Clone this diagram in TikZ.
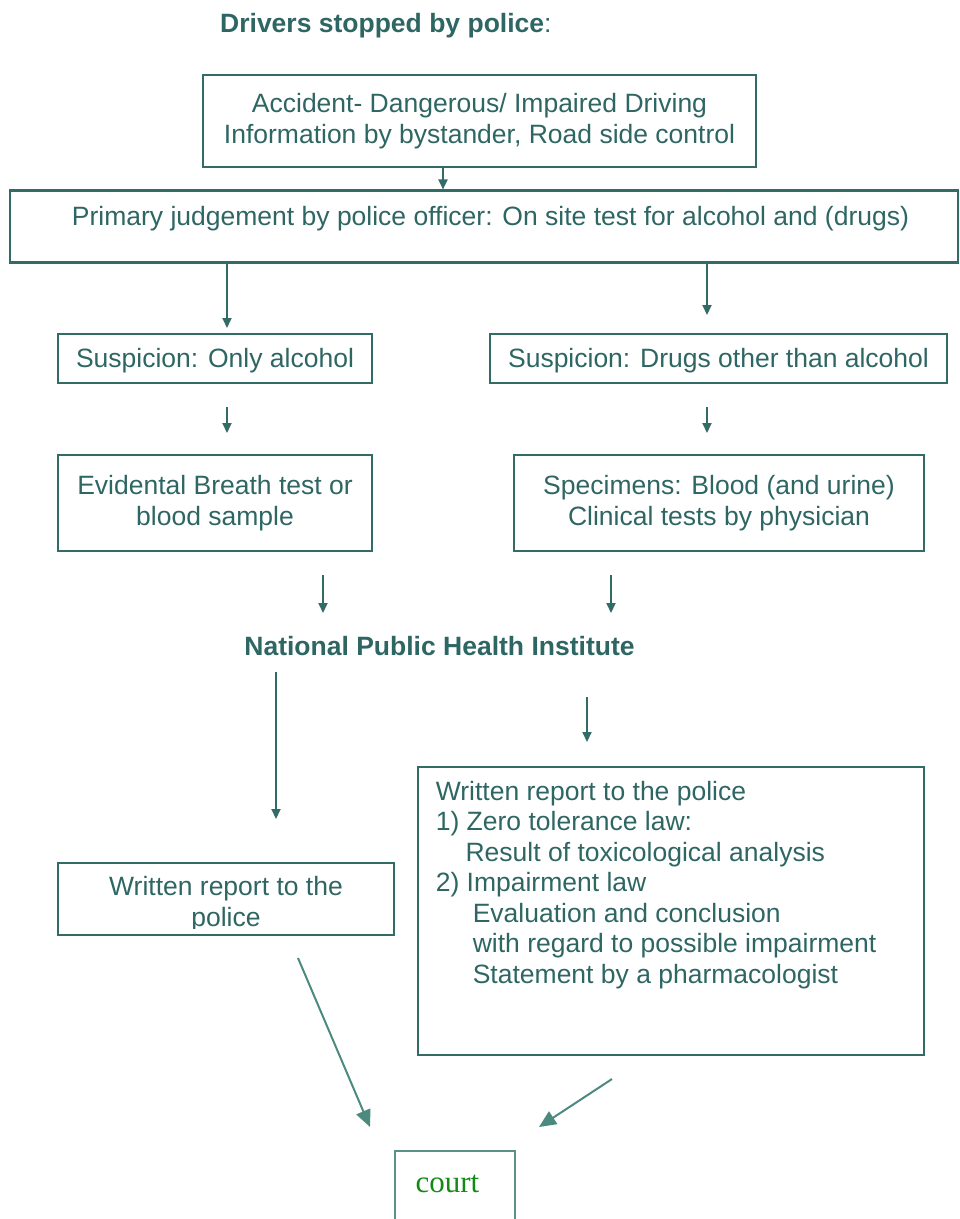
\documentclass[tikz,border=0pt]{standalone}
\usepackage{fontspec}
\setmainfont{Liberation Sans}
\newfontfamily\courtfont{Liberation Serif}
\usetikzlibrary{arrows.meta}
\definecolor{flowline}{HTML}{336B67}
\definecolor{flowtext}{HTML}{2E6663}
\definecolor{slantline}{HTML}{4C8A80}
\definecolor{courtline}{HTML}{5B8F8A}
\definecolor{courttext}{HTML}{138A13}
\newcommand{\flowfont}{\fontsize{26.5}{31}\selectfont}

\begin{document}
\begin{tikzpicture}[x=1pt,y=-1pt,
    box/.style={draw=flowline,line width=2.5pt,text=flowtext,font=\flowfont,align=center,inner sep=0pt},
    arr/.style={flowline,line width=2pt,-{Triangle[length=10pt,width=9pt]}},
    slant/.style={slantline,line width=2pt,-{Triangle[length=17pt,width=15pt]}},
    heading/.style={text=flowtext,font=\flowfont\bfseries,inner sep=0pt}]
    \useasboundingbox (0,0) rectangle (960,1219);

    % Title
    \node[heading,anchor=base west] (title) at (220,32) {Drivers stopped by police{\mdseries:}};

    % Reason for the stop
    \node[box,minimum width=553pt,minimum height=92pt] (accident) at (479.5,121)
        {Accident- Dangerous/ Impaired Driving\\Information by bystander, Road side control};

    % Police officer
    \node[box,minimum width=948pt,minimum height=72pt,text height=19pt,text depth=21pt] (judge) at (484,226.7)
        {\hspace*{13pt}Primary judgement by police officer: On site test for alcohol and (drugs)};
    \draw[arr] ([xshift=-36.5pt]accident.south) -- ([xshift=-36.5pt]accident.south |- judge.north);

    % Suspicion
    \node[box,minimum width=314pt,minimum height=49pt,text height=19pt,text depth=2pt] (onlyalc) at (215,358.5) {Suspicion: Only alcohol};
    \node[box,minimum width=457pt,minimum height=49pt,text height=19pt,text depth=2pt] (otherdrug) at (718.5,358.5) {Suspicion: Drugs other than alcohol};
    \coordinate (tipA) at (227,328);
    \coordinate (tipB) at (707,315);
    \draw[arr] (judge.south -| tipA) -- (tipA);
    \draw[arr] (judge.south -| tipB) -- (tipB);

    % Samples
    \node[box,minimum width=314pt,minimum height=96pt] (breath) at (215,503) {Evidental Breath test or\\blood sample};
    \node[box,minimum width=410pt,minimum height=96pt] (specimen) at (719,503) {Specimens: Blood (and urine)\\Clinical tests by physician};
    \coordinate (gapA1) at (227,407);
    \coordinate (gapA2) at (227,433);
    \coordinate (gapB1) at (707,407);
    \coordinate (gapB2) at (707,433);
    \draw[arr] (gapA1) -- (gapA2);
    \draw[arr] (gapB1) -- (gapB2);

    % Institute
    \node[heading] (nphi) at (439.5,646) {National Public Health Institute};
    \coordinate (labA1) at (323,575);
    \coordinate (labA2) at (323,613);
    \coordinate (labB1) at (611,575);
    \coordinate (labB2) at (611,613);
    \draw[arr] (labA1) -- (labA2);
    \draw[arr] (labB1) -- (labB2);

    % Reports
    \coordinate (repA1) at (276,672);
    \coordinate (repA2) at (276,819);
    \coordinate (repB1) at (587,697);
    \coordinate (repB2) at (587,742);
    \draw[arr] (repA1) -- (repA2);
    \draw[arr] (repB1) -- (repB2);

    \node[box,minimum width=336pt,minimum height=72pt] (policerep) at (226,899) {};
    \begin{scope}
        \clip (policerep.north west) rectangle ([yshift=8pt]policerep.south east);
        \node[text=flowtext,font=\flowfont,align=center,inner sep=0pt,anchor=north] (policetext) at (226,875.7)
            {Written report to the\\police};
    \end{scope}

    \node[box,minimum width=506pt,minimum height=288pt] (fullrep) at (671,911) {};
    \node[text=flowtext,font=\fontsize{26.5}{30.5}\selectfont,align=left,inner sep=0pt,anchor=north west] (fulltext) at (435.6,780.7)
        {Written report to the police\\
         1) Zero tolerance law:\\
         \hspace*{29.8pt}Result of toxicological analysis\\
         2) Impairment law\\
         \hspace*{37pt}Evaluation and conclusion\\
         \hspace*{37pt}with regard to possible impairment\\
         \hspace*{37pt}Statement by a pharmacologist};

    % Court
    \coordinate (slA1) at (298,958);
    \coordinate (slA2) at (370,1127);
    \coordinate (slB1) at (612,1079);
    \coordinate (slB2) at (539,1127);
    \draw[slant] (slA1) -- (slA2);
    \draw[slant] (slB1) -- (slB2);
    \begin{scope}
        \clip (0,0) rectangle (960,1219);
        \node[draw=courtline,line width=2pt,minimum width=120pt,minimum height=100pt,
              font={\courtfont\fontsize{31}{36}\selectfont},text=courttext,text height=15pt,text depth=33pt]
            (court) at (455,1201) {court\hspace*{15pt}};
    \end{scope}
\end{tikzpicture}
\end{document}
